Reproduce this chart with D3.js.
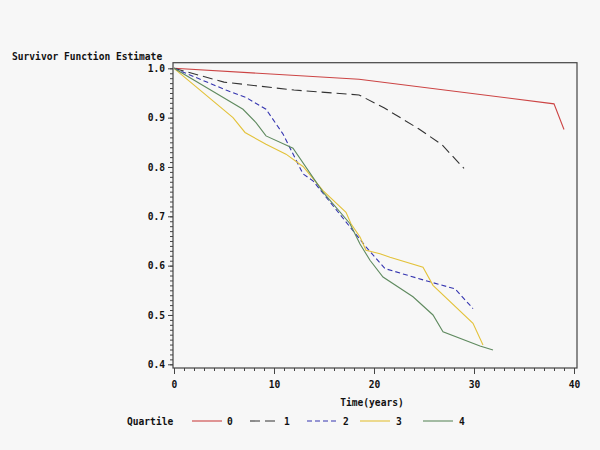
<!DOCTYPE html>
<html>
<head>
<meta charset="utf-8">
<script src="https://cdn.jsdelivr.net/npm/d3@7"></script>
<style>
  html, body { margin: 0; padding: 0; background: #f7f7f7; }
  svg { display: block; }
  text { font-family: "DejaVu Sans Mono", monospace; font-weight: bold; font-size: 9.6px; fill: #111; }
</style>
</head>
<body>
<script>
// ---- data ----
const quartiles = ["0", "1", "2", "3", "4"];
const q0Time = [0, 18.5, 38, 39];
const q0Surv = [1.0, 0.978, 0.928, 0.876];
const q1Time = [0, 5, 12, 18.5, 21, 24.5, 26.8, 29];
const q1Surv = [1.0, 0.972, 0.956, 0.946, 0.92, 0.877, 0.845, 0.797];
const q2Time = [0, 5.2, 7.2, 9.2, 10.9, 12.9, 13.9, 17.9, 19.2, 21.1, 25.1, 28.1, 29.9];
const q2Surv = [1.0, 0.956, 0.941, 0.917, 0.867, 0.786, 0.772, 0.671, 0.638, 0.594, 0.570, 0.553, 0.513];
const q3Time = [0, 5.9, 7.1, 9.2, 11.2, 12.9, 14.9, 17.2, 17.7, 18.6, 19.2, 20.6, 21.6, 24.9, 25.9, 29.9, 30.9];
const q3Surv = [1.0, 0.900, 0.870, 0.846, 0.826, 0.801, 0.752, 0.708, 0.685, 0.658, 0.631, 0.624, 0.617, 0.597, 0.560, 0.483, 0.439];
const q4Time = [0, 6.9, 8.2, 9.2, 11.9, 14.9, 17.6, 18.6, 19.6, 20.9, 23.9, 25.9, 26.9, 30.6, 31.9];
const q4Surv = [1.0, 0.917, 0.890, 0.863, 0.838, 0.749, 0.685, 0.644, 0.611, 0.577, 0.537, 0.500, 0.466, 0.437, 0.429];
const xTicks = [0, 10, 20, 30, 40];
const yTicks = [0.4, 0.5, 0.6, 0.7, 0.8, 0.9, 1.0];
const yLabel = "Survivor Function Estimate";
const xLabel = "Time(years)";
const legendTitle = "Quartile";

const colors = ["#cc4444", "#333333", "#3535b0", "#e3c23a", "#5f8a5f"];
const dashes = [null, "10,5", "5,3", null, null];

const series = [
  [q0Time, q0Surv], [q1Time, q1Surv], [q2Time, q2Surv], [q3Time, q3Surv], [q4Time, q4Surv]
].map(([t, s], i) => ({ name: quartiles[i], pts: t.map((d, j) => [d, s[j]]) }));

const W = 600, H = 450;
const svg = d3.select("body").append("svg").attr("width", W).attr("height", H);
svg.append("rect").attr("width", W).attr("height", H).attr("fill", "#f7f7f7");

const L = 173, R = 577, T = 62.7, B = 368;
const x = d3.scaleLinear().domain([-0.1, 40.3]).range([L, R]);
const y = d3.scaleLinear().domain([0.3925, 1.0114]).range([B, T]);

// frame
svg.append("rect").attr("x", L).attr("y", T).attr("width", R - L).attr("height", B - T)
  .attr("fill", "none").attr("stroke", "#444").attr("stroke-width", 1.2);

// y axis
const yMinor = d3.range(40, 101).map(v => v / 100);
svg.append("g").attr("transform", `translate(${L},0)`)
  .call(d3.axisLeft(y).tickValues(yMinor).tickSize(3).tickFormat(""))
  .call(g => g.select(".domain").remove())
  .call(g => g.selectAll("line").attr("stroke", "#444"));
svg.append("g").attr("transform", `translate(${L},0)`)
  .call(d3.axisLeft(y).tickValues(yTicks).tickSize(5).tickPadding(3).tickFormat(d3.format(".1f")))
  .call(g => g.select(".domain").remove())
  .call(g => g.selectAll("line").attr("stroke", "#444"))
  .call(g => g.selectAll("text").attr("font-family", null).attr("font-size", null).attr("fill", "#111"));

// x axis
const xMinor = d3.range(0, 41);
svg.append("g").attr("transform", `translate(0,${B})`)
  .call(d3.axisBottom(x).tickValues(xMinor).tickSize(3).tickFormat(""))
  .call(g => g.select(".domain").remove())
  .call(g => g.selectAll("line").attr("stroke", "#444"));
svg.append("g").attr("transform", `translate(0,${B})`)
  .call(d3.axisBottom(x).tickValues(xTicks).tickSize(6).tickPadding(7).tickFormat(d3.format("d")))
  .call(g => g.select(".domain").remove())
  .call(g => g.selectAll("line").attr("stroke", "#444"))
  .call(g => g.selectAll("text").attr("font-family", null).attr("font-size", null).attr("fill", "#111"));

// labels
svg.append("text").attr("x", 12).attr("y", 60).text(yLabel);
svg.append("text").attr("x", 372).attr("y", 406).attr("text-anchor", "middle").text(xLabel);

// lines
const line = d3.line().x(d => x(d[0])).y(d => y(d[1]));
svg.append("g").selectAll("path").data(series).join("path")
  .attr("d", d => line(d.pts))
  .attr("fill", "none")
  .attr("stroke", (d, i) => colors[i])
  .attr("stroke-width", 1.1)
  .attr("stroke-dasharray", (d, i) => dashes[i]);

// legend
const legY = 421;
svg.append("text").attr("x", 127).attr("y", legY + 3.5).text(legendTitle);
const legX = [192, 250, 307, 360, 423];
const leg = svg.append("g").selectAll("g").data(series).join("g")
  .attr("transform", (d, i) => `translate(${legX[i]},${legY})`);
leg.append("line").attr("x1", 0).attr("x2", 30).attr("y1", 0).attr("y2", 0)
  .attr("stroke", (d, i) => colors[i]).attr("stroke-width", 1.1)
  .attr("stroke-dasharray", (d, i) => dashes[i]);
leg.append("text").attr("x", (d, i) => i === 0 ? 35 : (i === 1 ? 34 : 36)).attr("y", 3.5).text(d => d.name);
</script>
</body>
</html>
